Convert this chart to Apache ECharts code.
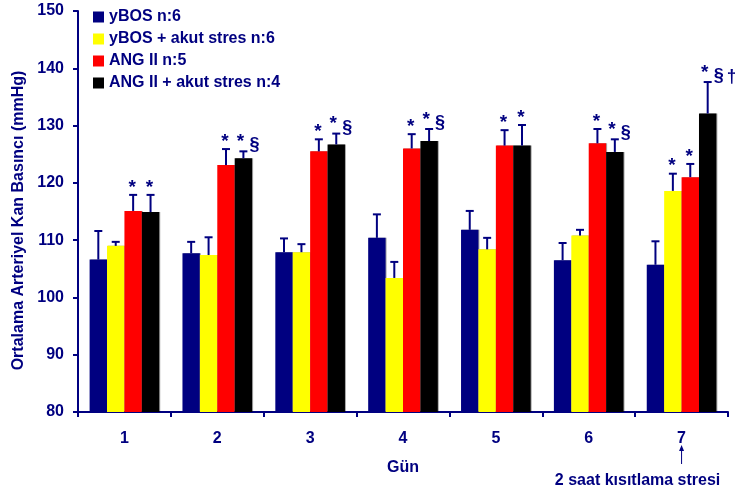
<!DOCTYPE html>
<html>
<head>
<meta charset="utf-8">
<script src="https://cdn.jsdelivr.net/npm/echarts@6/dist/echarts.min.js"></script>
<style>
  html, body { margin: 0; padding: 0; background: #fff; }
  #chart { width: 735px; height: 496px; }
</style>
</head>
<body>
<div id="chart"></div>
<script>
// Gün (day) categories and y-axis range
const days = ['1', '2', '3', '4', '5', '6', '7'];
const yTicks = { min: 80, max: 150, interval: 10 };

// Series names
const seriesNames = ['yBOS n:6', 'yBOS + akut stres n:6', 'ANG II n:5', 'ANG II + akut stres n:4'];

// Mean arterial pressure (mmHg) per day
const yBOS       = [106.6, 107.7, 107.9, 110.4, 111.8, 106.5, 105.7];
const yBOSStres  = [109.0, 107.4, 107.9, 103.4, 108.4, 110.8, 118.6];
const angII      = [115.1, 123.1, 125.5, 126.0, 126.5, 126.9, 121.0];
const angIIStres = [114.9, 124.3, 126.7, 127.3, 126.5, 125.4, 132.1];

// Standard errors (upper whisker only)
const yBOSErr       = [5.0, 2.0, 2.4, 4.1, 3.3, 3.0, 4.1];
const yBOSStresErr  = [0.7, 3.1, 1.4, 2.8, 2.0, 1.0, 3.0];
const angIIErr      = [2.8, 2.8, 2.1, 2.5, 2.7, 2.5, 2.3];
const angIIStresErr = [3.0, 1.2, 1.9, 2.1, 3.6, 2.2, 5.5];

// Significance marks above each bar
const yBOSMarks       = ['', '', '', '', '', '', ''];
const yBOSStresMarks  = ['', '', '', '', '', '', '*'];
const angIIMarks      = ['*', '*', '*', '*', '*', '*', '*'];
const angIIStresMarks = ['*', '*§', '*§', '*§', '*', '*§', '*§†'];

const colors = ['#000080', '#FFFF00', '#FF0000', '#000000'];
const navy = '#000080';
const font = '"Liberation Sans", Arial, sans-serif';

const values = [yBOS, yBOSStres, angII, angIIStres];
const errors = [yBOSErr, yBOSStresErr, angIIErr, angIIStresErr];
const marks = [yBOSMarks, yBOSStresMarks, angIIMarks, angIIStresMarks];

const CAT_GAP = 0.25;   // barCategoryGap fraction
const NBARS = 4;

const barSeries = values.map((vals, k) => ({
  name: seriesNames[k],
  type: 'bar',
  data: vals,
  barGap: '0%',
  barCategoryGap: (CAT_GAP * 100) + '%',
  itemStyle: {
    color: colors[k],
    shadowColor: 'rgba(0,0,0,0.35)',
    shadowOffsetX: 1,
    shadowBlur: 0
  },
  z: 2
}));

// Error whiskers and significance marks, placed at each bar's slot
const errSeries = values.map((vals, k) => ({
  name: seriesNames[k] + ' err',
  type: 'custom',
  z: 3,
  silent: true,
  data: vals.map((v, i) => [i, v, errors[k][i]]),
  renderItem: function (params, api) {
    const i = api.value(0);
    const v = api.value(1);
    const e = api.value(2);
    const catW = api.size([1, 0])[0];
    const bw = catW * (1 - CAT_GAP) / NBARS;
    const base = api.coord([i, v]);
    const top = api.coord([i, v + e]);
    const x = base[0] + (k - (NBARS - 1) / 2) * bw;
    const ls = { stroke: navy, lineWidth: 2 };
    const children = [
      { type: 'line', shape: { x1: x, y1: base[1], x2: x, y2: top[1] }, style: ls },
      { type: 'line', shape: { x1: x - 4, y1: top[1], x2: x + 4, y2: top[1] }, style: ls }
    ];
    const m = marks[k][i];
    if (m) {
      const hasExtra = m.length > 1;
      children.push({
        type: 'text',
        style: {
          text: '*', x: hasExtra ? x - 3 : x - 1, y: top[1] + (hasExtra ? 0 : 2),
          textAlign: 'center', textVerticalAlign: 'bottom',
          fill: navy, font: 'bold 19px ' + font
        }
      });
      if (m.indexOf('§') >= 0) {
        children.push({
          type: 'text',
          style: {
            text: '§', x: x + 6, y: top[1] - 6,
            textAlign: 'left', textVerticalAlign: 'middle',
            fill: navy, font: 'bold 18px ' + font
          }
        });
      }
      if (m.indexOf('†') >= 0) {
        children.push({
          type: 'text',
          style: {
            text: '†', x: x + 19, y: top[1] - 5,
            textAlign: 'left', textVerticalAlign: 'middle',
            fill: navy, font: 'bold 18px ' + font
          }
        });
      }
    }
    return { type: 'group', children: children };
  }
}));

const chart = echarts.init(document.getElementById('chart'), null, { renderer: 'canvas' });

chart.setOption({
  animation: false,
  backgroundColor: '#ffffff',
  grid: { left: 78, right: 7, top: 11, bottom: 84, containLabel: false },
  legend: {
    data: seriesNames,
    orient: 'vertical',
    left: 93,
    top: 9,
    padding: 0,
    itemWidth: 11,
    itemHeight: 11,
    itemGap: 6,
    itemTextGap: 5,
    icon: 'rect',
    textStyle: { color: navy, fontWeight: 'bold', fontSize: 16, fontFamily: font, lineHeight: 16, padding: [0, 0, 0, 0] }
  },
  xAxis: {
    type: 'category',
    data: days,
    name: 'Gün',
    nameLocation: 'middle',
    nameGap: 48,
    nameTextStyle: { color: navy, fontWeight: 'bold', fontSize: 16, fontFamily: font },
    axisLine: { lineStyle: { color: navy, width: 2 } },
    axisTick: { show: true, length: 5, lineStyle: { color: navy, width: 2 } },
    axisLabel: { color: navy, fontWeight: 'bold', fontSize: 16, fontFamily: font, margin: 19 },
    splitLine: { show: false }
  },
  yAxis: {
    type: 'value',
    min: yTicks.min,
    max: yTicks.max,
    interval: yTicks.interval,
    name: 'Ortalama Arteriyel Kan Basıncı (mmHg)',
    nameLocation: 'middle',
    nameGap: 51,
    nameTextStyle: { color: navy, fontWeight: 'bold', fontSize: 16, fontFamily: font, padding: [0, 18, 0, 0] },
    axisLine: { show: true, lineStyle: { color: navy, width: 2 } },
    axisTick: { show: true, length: 5, lineStyle: { color: navy, width: 2 } },
    axisLabel: { color: navy, fontWeight: 'bold', fontSize: 16, fontFamily: font, margin: 14 },
    splitLine: { show: false }
  },
  series: barSeries.concat(errSeries)
});

// Note under day 7: arrow pointing at the category label
const day7 = chart.convertToPixel({ xAxisIndex: 0 }, days.length - 1);
chart.setOption({
  graphic: [
    {
      type: 'line',
      shape: { x1: day7, y1: 464, x2: day7, y2: 449 },
      style: { stroke: navy, lineWidth: 1 }
    },
    {
      type: 'polygon',
      shape: { points: [[day7, 445], [day7 - 2.5, 451], [day7 + 2.5, 451]] },
      style: { fill: navy }
    },
    {
      type: 'text',
      style: {
        text: '2 saat kısıtlama stresi',
        x: day7 - 44, y: 481,
        textAlign: 'center', textVerticalAlign: 'middle',
        fill: navy, font: 'bold 16px ' + font
      }
    }
  ]
});
</script>
</body>
</html>
